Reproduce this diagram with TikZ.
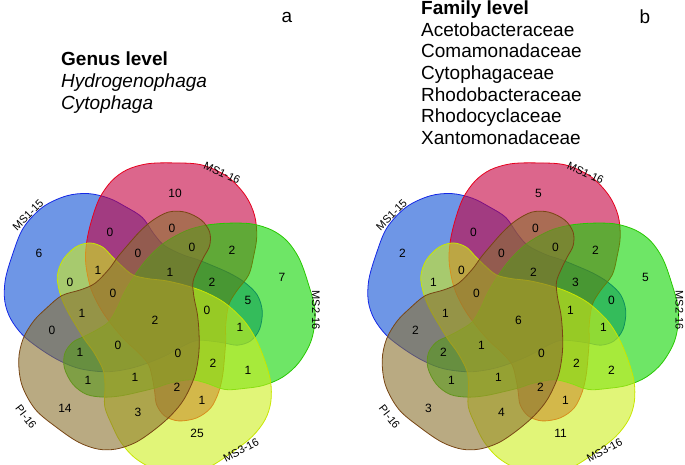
\documentclass[tikz,border=0pt]{standalone}
\usepackage{fontspec}
\setmainfont{Liberation Sans}
\definecolor{fblue}{RGB}{13,80,213}\definecolor{lblue}{RGB}{20,40,230}
\definecolor{fred}{RGB}{197,0,63}\definecolor{lred}{RGB}{230,0,30}
\definecolor{fgreen}{RGB}{13,213,0}\definecolor{lgreen}{RGB}{40,200,0}
\definecolor{fyellow}{RGB}{205,238,30}\definecolor{lyellow}{RGB}{200,230,0}
\definecolor{fbrown}{RGB}{138,113,47}\definecolor{lbrown}{RGB}{120,70,20}
\begin{document}
\begin{tikzpicture}[x=1pt,y=-1pt,
  blob/.style={fill opacity=0.6,line width=0.8pt},
  num/.style={font=\fontsize{12}{14}\selectfont,inner sep=0pt},
  setlab/.style={font=\fontsize{11}{13}\selectfont,inner sep=0pt},
  txt/.style={font=\fontsize{19}{21.7}\selectfont,align=left,anchor=north west,inner sep=0pt},
  panel/.style={font=\fontsize{19}{22}\selectfont,inner sep=0pt}]
\useasboundingbox (0,0) rectangle (685,465);
\foreach \cx in {156.7,520.2}{
 \foreach \rot/\fc/\lc/\sx/\sy/\sc in {72/fblue/lblue/0/-1/1,0/fred/lred/0/0/1,-72/fgreen/lgreen/-3/-4/1,-144/fyellow/lyellow/-4/-4/1,144/fbrown/lbrown/4/-7/0.98}{
  \begin{scope}[shift={(\cx+\sx,319.9+\sy)},rotate=\rot,scale=\sc]
   \path[blob,fill=\fc,draw=\lc] plot[smooth cycle,tension=0.55] coordinates {
   (-57,-122) (-45,-139) (-30,-150) (-10,-156) (15,-157) (45,-155) (71,-143) (89,-124) (98,-104) (100,-83) (97,-64) (92,-45) (80,-29) (72,-15) (69,5) (69,20) (68,35) (66,55) (62,72) (54,88) (40,98) (22,101) (8,96) (0,85) (-2,72) (-4,60) (-8,45) (-18,33) (-31,21) (-44,6) (-56,-11) (-66,-32) (-71,-57) (-70,-78) (-65,-100)};
  \end{scope}
 }
}
\foreach \x/\y/\a/\b [count=\i] in {175/193/10/5, 39/253/6/2, 110/232/0/0, 172/228/0/0, 192/247/0/0, 232/250/2/2, 282/277/7/5,
 98/270/1/0, 138/253/0/0, 170/272/1/2, 212/282/2/3, 248/300/5/0, 70/282/0/1, 113/293/0/0, 155/320/2/6, 207/310/0/1,
 240/327/1/1, 82/313/1/1, 52/330/0/2, 80/352/1/2, 118/345/0/1, 178/353/0/0, 213/363/2/2, 248/370/1/2, 88/380/1/1,
 135/377/1/1, 177/387/2/2, 202/400/1/1, 138/412/3/4, 65/408/14/3, 197/433/25/11}{
 \node[num] (l\i) at (\x,\y) {\a};
 \node[num] (r\i) at (\x+363.5,\y) {\b};
}
\foreach \p/\dx in {L/0,R/363.5}{
 \node[setlab,rotate=45] (s1\p) at (28+\dx,215) {MS1-15};
 \node[setlab,rotate=-25] (s2\p) at (222+\dx,173) {MS1-16};
 \node[setlab,rotate=-90] (s3\p) at (316+\dx,310) {MS2-16};
 \node[setlab,rotate=28] (s4\p) at (241+\dx,450) {MS3-16};
 \node[setlab,rotate=-52] (s5\p) at (26+\dx,417) {PI-16};
}
\node[txt] (genus) at (61,52) {\textbf{Genus level}\\\textit{Hydrogenophaga}\\\textit{Cytophaga}};
\node[txt] (family) at (421,0.5) {\textbf{Family level}\\Acetobacteraceae\\Comamonadaceae\\Cytophagaceae\\Rhodobacteraceae\\Rhodocyclaceae\\Xantomonadaceae};
\node[panel] (pa) at (287,17) {a};
\node[panel] (pb) at (645,17) {b};
\end{tikzpicture}
\end{document}
